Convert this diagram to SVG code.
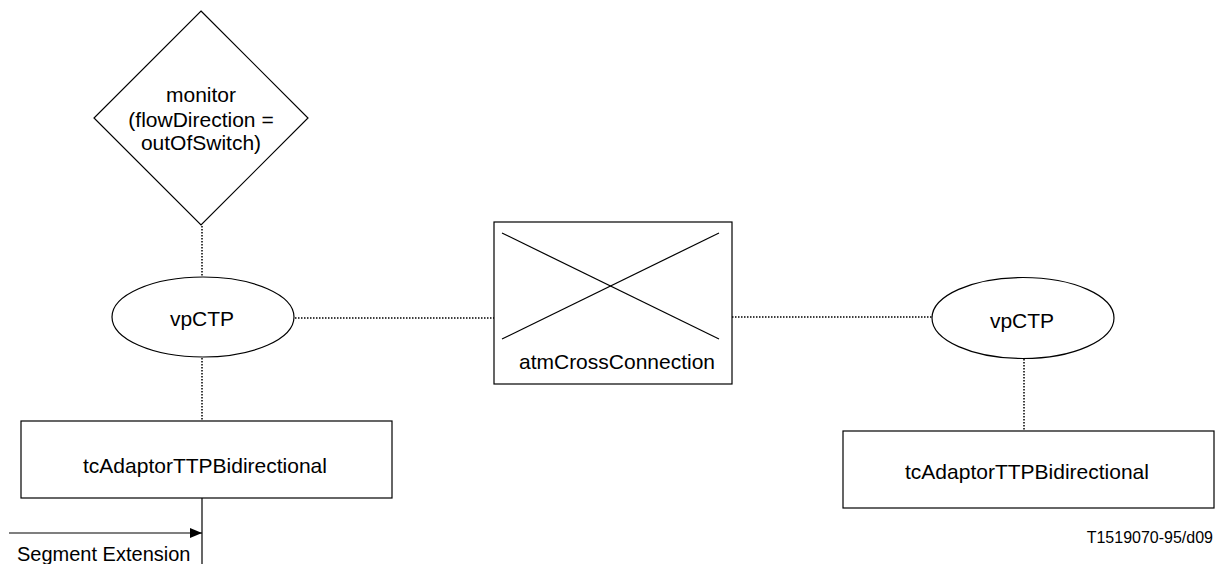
<svg xmlns="http://www.w3.org/2000/svg" width="1226" height="564" viewBox="0 0 1226 564">
<defs>
<style>
.shape{fill:#fff;stroke:#000;stroke-width:1.2}
.txt{font-family:"Liberation Sans",Arial,sans-serif;font-size:21px;fill:#000;text-anchor:middle}
.dot{stroke:#000;stroke-width:1.5;stroke-dasharray:1.5 1.5;fill:none}
.solid{stroke:#000;stroke-width:1.2;fill:none}
</style>
<marker id="arr" viewBox="0 0 12 10" refX="12" refY="5" markerWidth="12" markerHeight="10" markerUnits="userSpaceOnUse" orient="auto">
<path d="M0,0 L12,5 L0,10 Z" fill="#000"/>
</marker>
</defs>
<rect width="1226" height="564" fill="#fff"/>
<g id="connectors">
<line class="dot" x1="202" y1="226" x2="202" y2="277"/>
<line class="dot" x1="202" y1="358" x2="202" y2="421"/>
<line class="dot" x1="295" y1="318" x2="494" y2="318"/>
<line class="dot" x1="732" y1="317" x2="932" y2="317"/>
<line class="dot" x1="1024" y1="359" x2="1024" y2="431"/>
<line class="solid" x1="202" y1="498" x2="202" y2="564"/>
<line class="solid" x1="9" y1="533" x2="202" y2="533" marker-end="url(#arr)"/>
</g>
<g id="monitor">
<polygon class="shape" points="201,11 308,118 201,225 94,118"/>
<text class="txt" x="201" y="102">monitor</text>
<text class="txt" x="201" y="127">(flowDirection =</text>
<text class="txt" x="201" y="150">outOfSwitch)</text>
</g>
<g id="vpCTP-left">
<ellipse class="shape" cx="203" cy="317" rx="91" ry="40"/>
<text class="txt" x="202" y="326">vpCTP</text>
</g>
<g id="atmCrossConnection">
<rect class="shape" x="494" y="222" width="238" height="162"/>
<line class="solid" x1="502" y1="233" x2="719" y2="339"/>
<line class="solid" x1="502" y1="339" x2="719" y2="233"/>
<text class="txt" x="617" y="369">atmCrossConnection</text>
</g>
<g id="vpCTP-right">
<ellipse class="shape" cx="1023" cy="318" rx="91" ry="40.5"/>
<text class="txt" x="1022" y="328">vpCTP</text>
</g>
<g id="tcAdaptor-left">
<rect class="shape" x="21" y="421" width="371" height="77"/>
<text class="txt" x="205" y="473">tcAdaptorTTPBidirectional</text>
</g>
<g id="tcAdaptor-right">
<rect class="shape" x="843" y="431" width="371" height="77"/>
<text class="txt" x="1027" y="479">tcAdaptorTTPBidirectional</text>
</g>
<g id="labels">
<text class="txt" x="17" y="561" style="text-anchor:start;font-size:20px">Segment Extension</text>
<text class="txt" x="1213" y="543" style="text-anchor:end;font-size:16px">T1519070-95/d09</text>
</g>
</svg>
